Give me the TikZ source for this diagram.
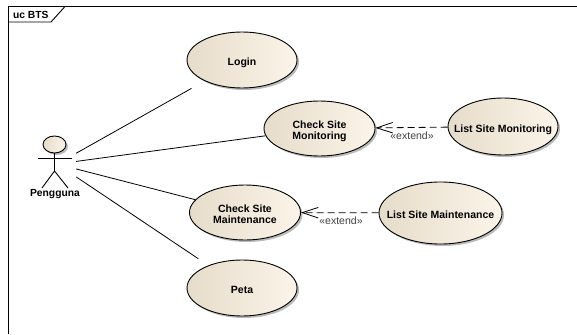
\documentclass[tikz,border=0pt]{standalone}
\usepackage{fontspec}
\setmainfont{Liberation Sans}
\usetikzlibrary{arrows.meta,shadows,shapes.geometric}

\definecolor{ucleft}{HTML}{E6DCCB}
\definecolor{ucright}{HTML}{FBF4E8}

\newcommand{\uctext}[1]{\raisebox{-6pt}[0pt][0pt]{\makebox[0pt]{\begin{tabular}{@{}c@{}}#1\end{tabular}}}}

\tikzset{
    usecase/.style={ellipse,draw=black,line width=0.9pt,left color=ucleft,middle color=ucright,right color=ucright,
        drop shadow={shadow xshift=2pt,shadow yshift=-2pt,fill=black!45,opacity=0.6},
        inner sep=0pt,font=\fontsize{10.5}{11.5}\selectfont\bfseries},
    assoc/.style={line width=0.8pt},
    extendline/.style={line width=0.8pt,dash pattern=on 7pt off 4pt,-{Straight Barb[length=16pt,width=10.5pt,line width=0.8pt]}},
    stereo/.style={font=\fontsize{10.5}{12}\selectfont,text=black!75},
}

\begin{document}
\begin{tikzpicture}[x=1pt,y=-1pt]
    \useasboundingbox (0,0) rectangle (577,334);
    \fill[white] (0,0) rectangle (577,334);

    % frame
    \draw[line width=0.9pt] (8,334) -- (8,6.5) -- (577,6.5);
    \draw[line width=0.9pt] (8,22) -- (51,22) -- (65,6.5);
    \node[anchor=west,font=\fontsize{10.3}{12}\selectfont\bfseries] (frametitle) at (9.5,14.5) {uc BTS};

    % use cases
    \node[usecase,minimum width=110pt,minimum height=56pt] (login) at (242,60) {\uctext{Login}};
    \node[usecase,minimum width=111pt,minimum height=55pt] (checkmon) at (319.5,128.5) {\uctext{Check Site\\Monitoring}};
    \node[usecase,minimum width=110pt,minimum height=57pt] (listmon) at (503,126.5) {\uctext{List Site Monitoring}};
    \node[usecase,minimum width=111pt,minimum height=55pt] (checkmaint) at (245,212.5) {\uctext{Check Site\\Maintenance}};
    \node[usecase,minimum width=123pt,minimum height=62pt] (listmaint) at (440.5,213) {\uctext{List Site Maintenance}};
    \node[usecase,minimum width=110pt,minimum height=56pt] (peta) at (242,288) {\uctext{Peta}};

    % actor
    \node[minimum width=38pt,minimum height=56pt,inner sep=0pt] (pengguna) at (57,164) {};
    \draw[line width=0.9pt,left color=ucleft,right color=ucright,drop shadow={shadow xshift=2pt,shadow yshift=-2pt,fill=black!45,opacity=0.6}] (54.5,144.5) ellipse (11.5 and 8.5);
    \draw[line width=0.9pt] (54.5,153) -- (54.5,171);
    \draw[line width=0.9pt] (38,158) -- (72,158);
    \draw[line width=0.9pt] (42,188) -- (54.5,171) -- (68,188);
    \node[font=\fontsize{10.3}{12}\selectfont\bfseries] (penggunalabel) at (55,194) {Pengguna};

    % connectors
    \draw[assoc,shorten >=15pt] (pengguna) -- (login);
    \draw[assoc] (pengguna) -- (checkmon);
    \draw[assoc] (pengguna) -- (checkmaint);
    \draw[assoc,shorten >=12pt] (pengguna) -- (peta);
    \draw[extendline] (listmon) -- (checkmon);
    \draw[extendline] (listmaint) -- (checkmaint);

    \node[stereo] (extendmon) at (412,136) {«extend»};
    \node[stereo] (extendmaint) at (341,221) {«extend»};
\end{tikzpicture}
\end{document}
